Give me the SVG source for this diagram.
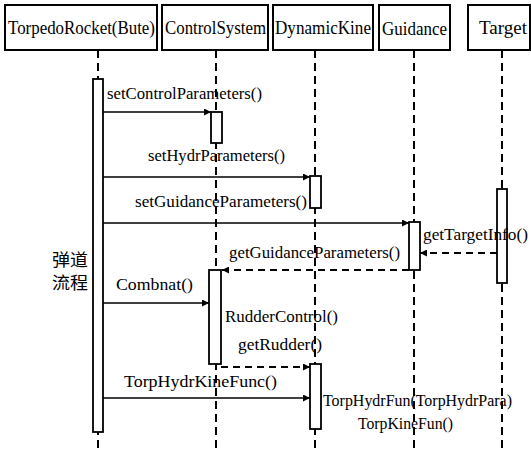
<svg xmlns="http://www.w3.org/2000/svg" width="531" height="451" viewBox="0 0 531 451">
<style>
.box{fill:#fff;stroke:#000;stroke-width:2}
.life{stroke:#000;stroke-width:2;stroke-dasharray:8,5;fill:none}
.act{fill:#fff;stroke:#000;stroke-width:1.8}
.msg{stroke:#000;stroke-width:1.5;fill:none;marker-end:url(#ah)}
.ret{stroke:#000;stroke-width:1.8;stroke-dasharray:7,5;fill:none;marker-end:url(#ah)}
.h{font-size:19px}
.l{font-size:16px}
.cn{font-size:17px}
</style>
<defs>
<marker id="ah" viewBox="0 0 10 10" refX="10" refY="5" markerWidth="7" markerHeight="7" markerUnits="userSpaceOnUse" orient="auto">
<path d="M0,0 L10,5 L0,10 z" fill="#000"/>
</marker>
</defs>
<rect width="531" height="451" fill="#fff"/>
<g id="lifelines">
<line class="life" x1="98" y1="50" x2="98" y2="451"/>
<line class="life" x1="216" y1="50" x2="216" y2="451"/>
<line class="life" x1="315" y1="50" x2="315" y2="451"/>
<line class="life" x1="414" y1="50" x2="414" y2="451"/>
<line class="life" x1="502" y1="50" x2="502" y2="451"/>
</g>
<g font-family="Liberation Serif, serif" fill="#000">
<g id="n1"><rect class="box" x="5" y="5" width="152" height="45"/><text class="h" x="8" y="34" textLength="147" lengthAdjust="spacingAndGlyphs">TorpedoRocket(Bute)</text></g>
<g id="n2"><rect class="box" x="162" y="5" width="106" height="45"/><text class="h" x="165" y="34" textLength="101" lengthAdjust="spacingAndGlyphs">ControlSystem</text></g>
<g id="n3"><rect class="box" x="273" y="5" width="100" height="45"/><text class="h" x="275" y="34" textLength="96" lengthAdjust="spacingAndGlyphs">DynamicKine</text></g>
<g id="n4"><rect class="box" x="379" y="5" width="71" height="45"/><text class="h" x="382" y="35" textLength="65" lengthAdjust="spacingAndGlyphs">Guidance</text></g>
<g id="n5"><rect class="box" x="468" y="5" width="62" height="45"/><text class="h" x="479" y="34" textLength="48" lengthAdjust="spacingAndGlyphs">Target</text></g>
</g>
<g id="activations">
<rect class="act" x="93" y="79" width="10" height="353"/>
<rect class="act" x="211" y="112" width="11" height="31"/>
<rect class="act" x="310" y="176" width="11" height="32"/>
<rect class="act" x="409" y="222" width="11" height="48"/>
<rect class="act" x="497" y="189" width="10" height="94"/>
<rect class="act" x="209" y="270" width="12" height="94"/>
<rect class="act" x="310" y="364" width="11" height="65"/>
</g>
<g id="connectors">
<line class="msg" x1="103" y1="112" x2="211" y2="112"/>
<line class="msg" x1="103" y1="177" x2="310" y2="177"/>
<line class="msg" x1="103" y1="223" x2="409" y2="223"/>
<line class="ret" x1="497" y1="253" x2="420" y2="253"/>
<line class="ret" x1="409" y1="270" x2="222" y2="270"/>
<line class="msg" x1="103" y1="303" x2="209" y2="303"/>
<line class="ret" x1="221" y1="367" x2="310" y2="367"/>
<line class="msg" x1="103" y1="398" x2="310" y2="398"/>
</g>
<g id="labels" font-family="Liberation Serif, serif" fill="#000">
<text class="l" x="107" y="99" textLength="155" lengthAdjust="spacingAndGlyphs">setControlParameters()</text>
<text class="l" x="148" y="161" textLength="137" lengthAdjust="spacingAndGlyphs">setHydrParameters()</text>
<text class="l" x="135" y="207" textLength="172" lengthAdjust="spacingAndGlyphs">setGuidanceParameters()</text>
<text class="l" x="423" y="240" textLength="105" lengthAdjust="spacingAndGlyphs">getTargetInfo()</text>
<text class="l" x="229" y="258" textLength="171" lengthAdjust="spacingAndGlyphs">getGuidanceParameters()</text>
<text class="l" x="116" y="290" textLength="77" lengthAdjust="spacingAndGlyphs">Combnat()</text>
<text class="l" x="225" y="322" textLength="113" lengthAdjust="spacingAndGlyphs">RudderControl()</text>
<text class="l" x="238" y="350" textLength="84" lengthAdjust="spacingAndGlyphs">getRudder()</text>
<text class="l" x="124" y="387" textLength="153" lengthAdjust="spacingAndGlyphs">TorpHydrKineFunc()</text>
<text class="l" x="323" y="406" textLength="189" lengthAdjust="spacingAndGlyphs">TorpHydrFun(TorpHydrPara)</text>
<text class="l" x="358" y="429" textLength="95" lengthAdjust="spacingAndGlyphs">TorpKineFun()</text>
<text class="cn" font-family="Noto Sans CJK SC, sans-serif" x="52" y="266" textLength="36" lengthAdjust="spacingAndGlyphs">弹道</text>
<text class="cn" font-family="Noto Sans CJK SC, sans-serif" x="52" y="289" textLength="36" lengthAdjust="spacingAndGlyphs">流程</text>
</g>
</svg>
